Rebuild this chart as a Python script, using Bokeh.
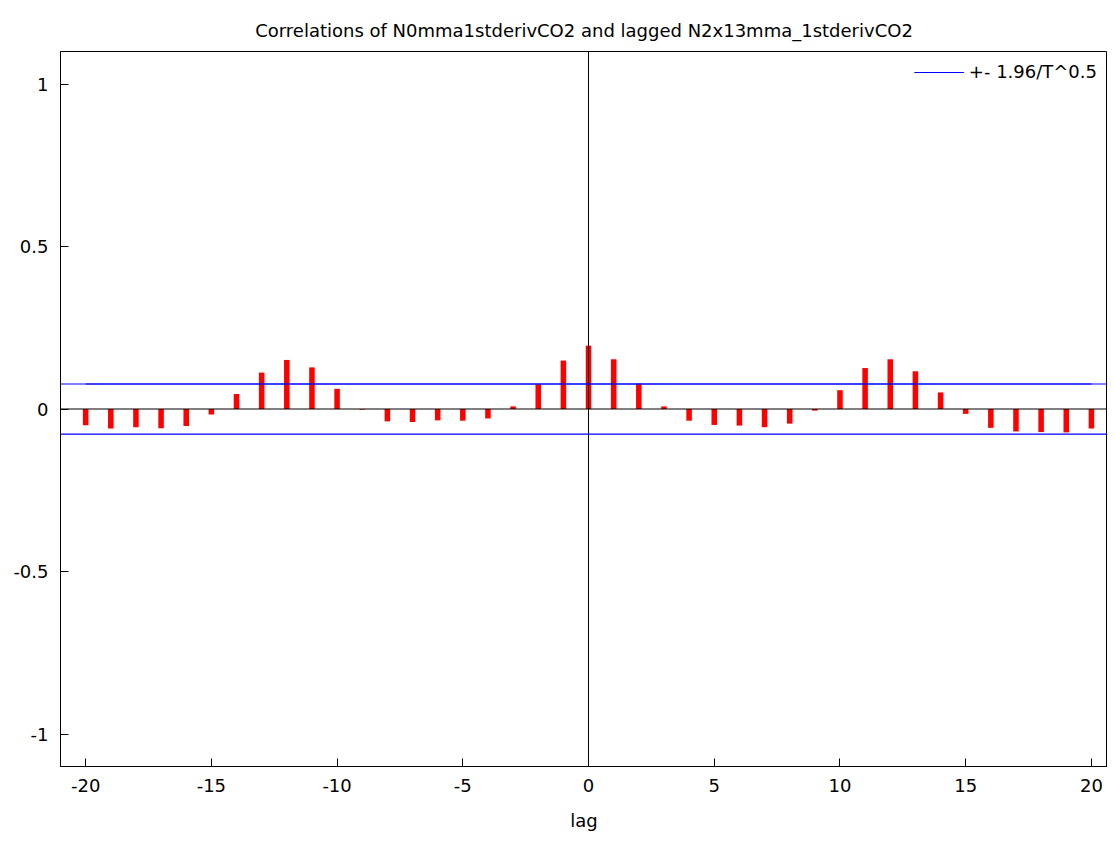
from bokeh.plotting import figure
from bokeh.models import Range1d, FixedTicker, LinearAxis, Span, CustomJSTickFormatter, Legend
from bokeh.embed import file_html
from bokeh.resources import INLINE

lags = list(range(-20, 21))
corr = [-0.050, -0.060, -0.056, -0.059, -0.052, -0.017, 0.046, 0.112, 0.151, 0.128,
        0.062, -0.002, -0.038, -0.040, -0.035, -0.036, -0.029, 0.008, 0.076, 0.149,
        0.195,
        0.153, 0.078, 0.008, -0.036, -0.049, -0.051, -0.056, -0.045, -0.005, 0.058,
        0.126, 0.153, 0.116, 0.051, -0.015, -0.058, -0.069, -0.071, -0.072, -0.060]
band = 0.077
x_ticks = [-20, -15, -10, -5, 0, 5, 10, 15, 20]
y_ticks = [-1, -0.5, 0, 0.5, 1]
title_text = "Correlations of N0mma1stderivCO2 and lagged N2x13mma_1stderivCO2"
legend_text = "+- 1.96/T^0.5"

FONT = "DejaVu Sans"
FS = "18px"
BLUE = "#0000ff"
fmt = CustomJSTickFormatter(code="return tick.toString();")

p = figure(width=1107, height=833, output_backend="svg", toolbar_location=None,
           x_range=Range1d(-21, 20.64), y_range=Range1d(-1.1, 1.1),
           min_border_left=60, min_border_right=0, min_border_top=51, min_border_bottom=10,
           x_axis_location=None, y_axis_location=None)
p.title.text = title_text
p.title.align = "center"
p.title.text_font = FONT
p.title.text_font_size = FS
p.title.text_font_style = "normal"
p.title.text_color = "#000000"
p.title.standoff = 21
p.grid.visible = False
p.outline_line_color = "#000000"
p.outline_line_width = 1

def style_axis(ax):
    ax.major_tick_in = 8
    ax.major_tick_out = 0
    ax.minor_tick_in = 0
    ax.minor_tick_out = 0
    ax.axis_line_color = "#000000"
    ax.major_tick_line_color = "#000000"
    ax.major_label_text_font = FONT
    ax.major_label_text_font_size = FS
    ax.major_label_text_color = "#000000"
    ax.formatter = fmt

xb = LinearAxis(ticker=FixedTicker(ticks=x_ticks), axis_label="lag")
style_axis(xb)
xb.major_label_standoff = 12
xb.axis_label_text_font = FONT
xb.axis_label_text_font_size = FS
xb.axis_label_text_font_style = "normal"
xb.axis_label_text_color = "#000000"
xb.axis_label_standoff = 15
p.add_layout(xb, "below")

yl = LinearAxis(ticker=FixedTicker(ticks=y_ticks))
style_axis(yl)
yl.major_label_standoff = 12
p.add_layout(yl, "left")

p.add_layout(Span(location=0, dimension="width", line_color="#000000", line_width=1.2))
p.add_layout(Span(location=0, dimension="height", line_color="#000000", line_width=1))

p.vbar(x=lags, top=corr, bottom=0, width=0.22, fill_color="#ff0000", line_color=None)

# confidence band: full-width spans, plus a line renderer for the legend entry
p.add_layout(Span(location=band, dimension="width", line_color=BLUE, line_width=1.2))
p.add_layout(Span(location=-band, dimension="width", line_color=BLUE, line_width=1.2))
band_line = p.line(x=lags, y=[band] * len(lags), line_color=BLUE, line_width=1.2)

legend = Legend(items=[(legend_text, [band_line])], location="top_right",
                border_line_color=None, background_fill_alpha=0,
                label_text_font=FONT, label_text_font_size=FS,
                label_text_color="#000000",
                glyph_width=50, margin=10, padding=4)
p.add_layout(legend)

open("out.html", "w").write(file_html(p, INLINE))
